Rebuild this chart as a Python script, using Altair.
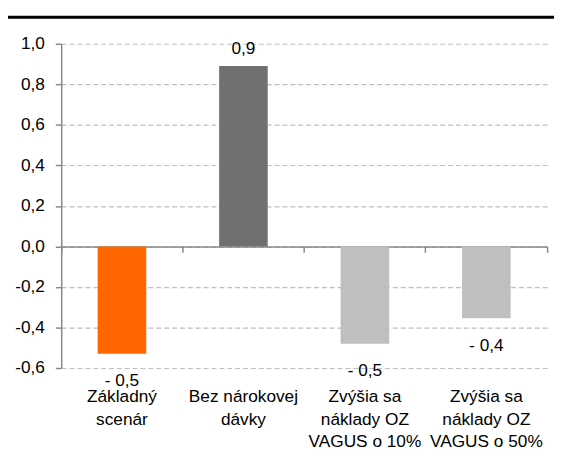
import altair as alt
import pandas as pd

categories = ["Základný\nscenár", "Bez nárokovej\ndávky",
              "Zvýšia sa\nnáklady OZ\nVAGUS o 10%", "Zvýšia sa\nnáklady OZ\nVAGUS o 50%"]
values = [-0.53, 0.89, -0.48, -0.355]
colors = ["#FF6600", "#707070", "#BFBFBF", "#BFBFBF"]
y_ticks = [-0.6, -0.4, -0.2, 0.0, 0.2, 0.4, 0.6, 0.8, 1.0]

W, H = 493, 329
ymin, ymax = -0.6, 1.0
zero_offset = -(H - H * (ymax - 0) / (ymax - ymin))

df = pd.DataFrame({"cat": categories, "v": values})

FONT = "Liberation Sans"
FS = 17.5

xscale = alt.Scale(domain=categories, paddingInner=0, paddingOuter=0)
yscale = alt.Scale(domain=[ymin, ymax], nice=False, zero=False)

base = alt.Chart(df).transform_calculate(
    lab="(datum.v < 0 ? '- ' : '') + replace(format(abs(datum.v), '.1f'), '.', ',')"
)

bars = base.mark_bar(width=alt.RelativeBandSize(0.4)).encode(
    x=alt.X("cat:N", sort=categories, scale=xscale, title=None,
            axis=alt.Axis(orient="bottom", domain=False, ticks=False, grid=False,
                          labelAngle=0, labelFont=FONT, labelFontSize=FS,
                          labelColor="#000000", labelLineHeight=23,
                          labelPadding=20, labelBaseline="top",
                          labelExpr="split(datum.label, '\\n')")),
    y=alt.Y("v:Q", scale=yscale, title=None,
            axis=alt.Axis(values=y_ticks, grid=True, gridColor="#BFBFBF",
                          gridDash=[5, 3], gridWidth=1.2,
                          domainColor="#888888", domainWidth=1.5,
                          tickColor="#888888", tickSize=6, tickWidth=1.5,
                          labelFont=FONT, labelFontSize=FS, labelColor="#000000",
                          labelPadding=11,
                          labelExpr="(datum.value < 0 ? '-' : '') + replace(format(abs(datum.value), '.1f'), '.', ',')")),
    color=alt.Color("cat:N", scale=alt.Scale(domain=categories, range=colors), legend=None),
)

pos_text = base.transform_filter("datum.v >= 0").mark_text(
    font=FONT, fontSize=FS, color="#000000", baseline="middle", dy=-17
).encode(
    x=alt.X("cat:N", sort=categories, scale=xscale, title=None,
            axis=alt.Axis(orient="bottom", offset=zero_offset, labels=False, grid=False,
                          domain=True, domainColor="#888888", domainWidth=1.5,
                          ticks=True, tickColor="#888888", tickSize=6, tickWidth=1.5,
                          bandPosition=1, tickExtra=True)),
    y=alt.Y("v:Q", scale=yscale, axis=None),
    text="lab:N",
)

neg_text = base.transform_filter("datum.v < 0").mark_text(
    font=FONT, fontSize=FS, color="#000000", baseline="middle", dy=28
).encode(
    x=alt.X("cat:N", sort=categories, scale=xscale, axis=None),
    y=alt.Y("v:Q", scale=yscale, axis=None),
    text="lab:N",
)

top_line = alt.Chart(pd.DataFrame({"a": [0]})).mark_rule(color="#000000", strokeWidth=3).encode(
    x=alt.value(-54), x2=alt.value(W + 7), y=alt.value(-27)
)

chart = alt.layer(bars, pos_text, neg_text, top_line).resolve_axis(
    x="independent", y="independent"
).properties(
    width=W, height=H,
    autosize=alt.AutoSizeParams(type="none"),
    padding={"left": 54, "top": 33, "right": 7, "bottom": 88},
).configure_view(stroke=None)

chart.save("out.html", embed_options={"renderer": "svg", "actions": False})
